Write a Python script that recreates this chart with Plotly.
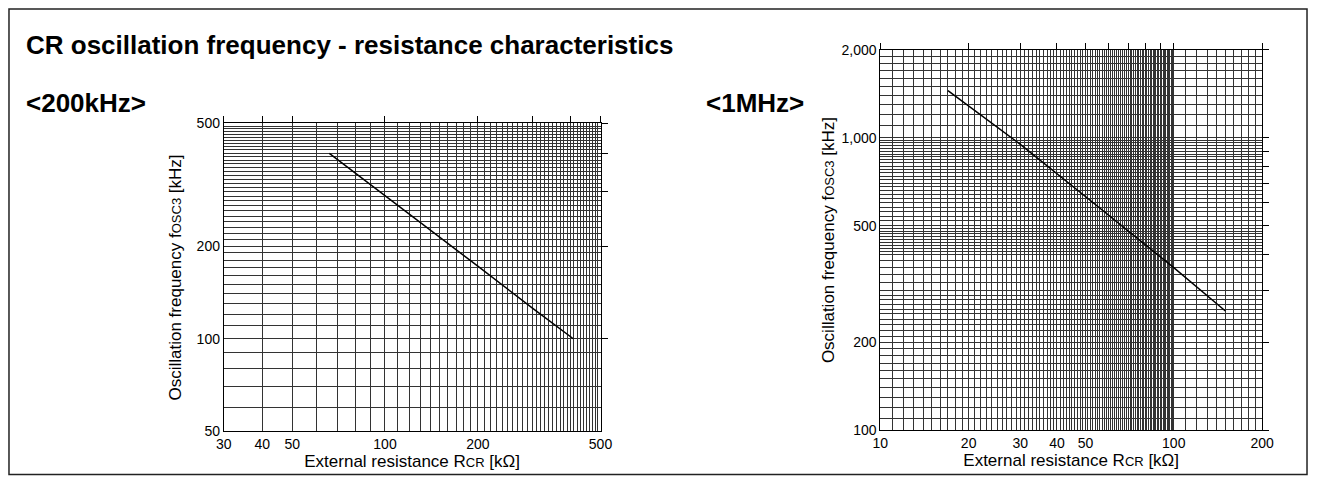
import plotly.graph_objects as go
import math

# ---------------- data ----------------
# <200kHz> chart
r_200k = [66, 100, 200, 300, 408]          # external resistance RCR [kOhm]
f_200k = [400, 292, 172, 126, 100]         # oscillation frequency fOSC3 [kHz]

# <1MHz> chart
r_1m = [17, 30, 50, 100, 150]
f_1m = [1450, 950, 630, 360, 256]

# grid / tick positions
grid_x_200k = list(range(30, 501, 10))
grid_y_200k = list(range(50, 501, 10))
label_x_200k = {30: "30", 40: "40", 50: "50", 100: "100", 200: "200", 500: "500"}
label_y_200k = {50: "50", 100: "100", 200: "200", 500: "500"}
top_ticks_200k = [30, 40, 50, 100, 200, 300, 400, 500]
right_ticks_200k = [100, 200, 300, 400, 500]

grid_x_1m = list(range(10, 100, 1)) + list(range(100, 201, 10))
grid_y_1m = (list(range(100, 300, 10)) + list(range(300, 400, 20)) +
             list(range(400, 500, 10)) + list(range(500, 1000, 20)) +
             list(range(1000, 2001, 100)))
label_x_1m = {10: "10", 20: "20", 30: "30", 40: "40", 50: "50", 100: "100", 200: "200"}
label_y_1m = {100: "100", 200: "200", 500: "500", 1000: "1,000", 2000: "2,000"}
top_ticks_1m = [10, 20, 30, 40, 50, 60, 70, 80, 90, 100, 200]
right_ticks_1m = [100, 200, 300, 400, 500, 600, 700, 800, 900, 1000, 2000]

FONT = "Liberation Sans, Arial, sans-serif"
GRID = "#333333"
W, H = 1320, 484


def px_x(p):
    # map a reference pixel x to paper coordinate
    return ((p - 7.1) / 0.9855) / W


def px_y(p):
    return 1 - ((p - 6.2) / 0.970) / H


fig = go.Figure()

# main curves
fig.add_trace(go.Scatter(x=r_200k, y=f_200k, mode="lines", xaxis="x", yaxis="y",
                         line=dict(color="black", width=1.5), showlegend=False, hoverinfo="x+y"))
fig.add_trace(go.Scatter(x=r_1m, y=f_1m, mode="lines", xaxis="x3", yaxis="y3",
                         line=dict(color="black", width=1.5), showlegend=False, hoverinfo="x+y"))
# invisible helpers so the tick-only overlay axes get drawn
fig.add_trace(go.Scatter(x=r_200k[:1], y=f_200k[:1], mode="markers", xaxis="x2", yaxis="y2",
                         marker=dict(opacity=0), showlegend=False, hoverinfo="skip"))
fig.add_trace(go.Scatter(x=r_1m[:1], y=f_1m[:1], mode="markers", xaxis="x4", yaxis="y4",
                         marker=dict(opacity=0), showlegend=False, hoverinfo="skip"))

tickfont = dict(family=FONT, size=14, color="black")
titlefont = dict(family=FONT, size=17, color="black")

xtitle = "External resistance R<span style='font-size:13px'>CR</span> [kΩ]"
ytitle = "Oscillation frequency f<span style='font-size:13px'>OSC3</span> [kHz]"


def main_axis(grid, labels, rng, domain, title, anchor, standoff):
    return dict(type="log", range=[math.log10(rng[0]), math.log10(rng[1])], domain=domain,
                anchor=anchor, tickmode="array", tickvals=grid,
                ticktext=[labels.get(v, "") for v in grid], ticks="",
                showgrid=True, gridcolor=GRID, gridwidth=1,
                showline=True, linecolor="black", linewidth=1, mirror=True,
                tickfont=tickfont, zeroline=False,
                title=dict(text=title, font=titlefont, standoff=standoff))


def tick_axis(ticks, rng, domain, side, overlay, anchor):
    return dict(type="log", range=[math.log10(rng[0]), math.log10(rng[1])], domain=domain,
                overlaying=overlay, side=side, anchor=anchor, tickmode="array", tickvals=ticks,
                ticks="outside", ticklen=6, tickcolor="black", tickwidth=1,
                showticklabels=False, showgrid=False, showline=False, zeroline=False)


dx1 = [px_x(223), px_x(600)]
dy1 = [px_y(431), px_y(122)]
dx2 = [px_x(880), px_x(1262)]
dy2 = [px_y(430), px_y(48)]

fig.update_layout(
    width=W, height=H,
    margin=dict(l=0, r=0, t=0, b=0),
    paper_bgcolor="white", plot_bgcolor="white",
    font=dict(family=FONT, color="black"),
    showlegend=False,
    xaxis=main_axis(grid_x_200k, label_x_200k, (30, 500), dx1, xtitle, "y", 0),
    yaxis=main_axis(grid_y_200k, label_y_200k, (50, 500), dy1, ytitle, "x", 10),
    xaxis2=tick_axis(top_ticks_200k, (30, 500), dx1, "top", "x", "y"),
    yaxis2=tick_axis(right_ticks_200k, (50, 500), dy1, "right", "y", "x"),
    xaxis3=main_axis(grid_x_1m, label_x_1m, (10, 200), dx2, xtitle, "y3", 0),
    yaxis3=main_axis(grid_y_1m, label_y_1m, (100, 2000), dy2, ytitle, "x3", 2),
    xaxis4=tick_axis(top_ticks_1m, (10, 200), dx2, "top", "x3", "y3"),
    yaxis4=tick_axis(right_ticks_1m, (100, 2000), dy2, "right", "y3", "x3"),
)

fig.add_annotation(text="<b>CR oscillation frequency - resistance characteristics</b>",
                   xref="paper", yref="paper", x=px_x(23), y=px_y(43), xanchor="left",
                   yanchor="middle", showarrow=False, font=dict(family=FONT, size=26, color="black"))
fig.add_annotation(text="<b>&lt;200kHz&gt;</b>", xref="paper", yref="paper", x=px_x(23), y=px_y(102),
                   xanchor="left", yanchor="middle", showarrow=False,
                   font=dict(family=FONT, size=26, color="black"))
fig.add_annotation(text="<b>&lt;1MHz&gt;</b>", xref="paper", yref="paper", x=px_x(704), y=px_y(102),
                   xanchor="left", yanchor="middle", showarrow=False,
                   font=dict(family=FONT, size=26, color="black"))

# outer frame (kept inside the page)
fig.add_shape(type="rect", xref="paper", yref="paper", x0=1.0 / W, y0=1.5 / H,
              x1=1 - 1.0 / W, y1=1 - 1.0 / H, line=dict(color="#222222", width=1.5))

fig.write_html("out.html", config={"displayModeBar": False},
               post_script="document.body.style.margin='0';document.body.style.overflow='hidden';")
